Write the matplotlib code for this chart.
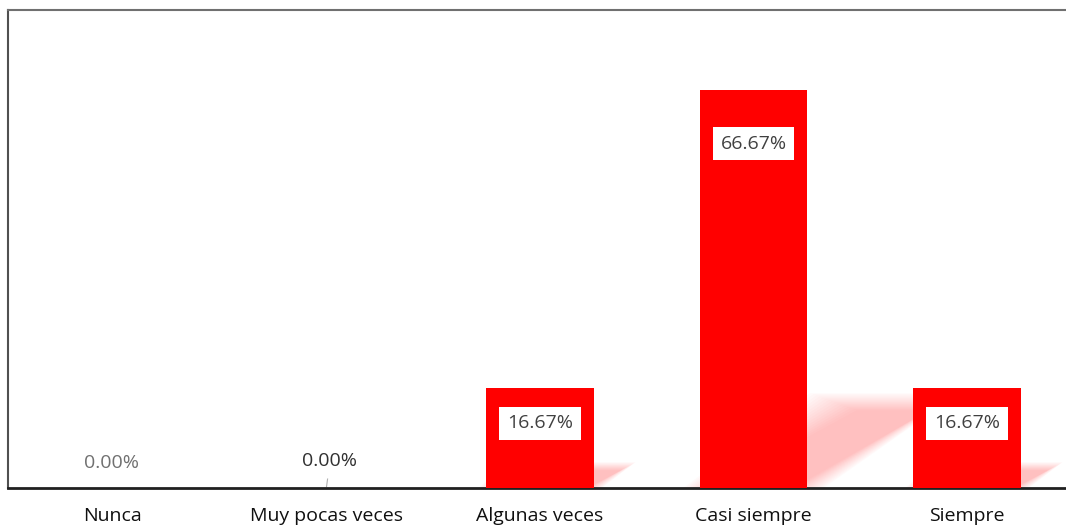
import matplotlib.pyplot as plt
from matplotlib.patches import Polygon

categories = ["Nunca", "Muy pocas veces", "Algunas veces", "Casi siempre", "Siempre"]
values = [0.0, 0.0, 16.67, 66.67, 16.67]
labels = ["0.00%", "0.00%", "16.67%", "66.67%", "16.67%"]

plt.rcParams['font.family'] = ['Open Sans', 'DejaVu Sans']

fig = plt.figure(figsize=(10.66, 5.27), dpi=100)
W, H = 1066, 527
ax = fig.add_axes([8 / W, (H - 488) / H, (W - 8) / W, (488 - 10) / H])

x = list(range(len(categories)))
bw = 0.505
ax.bar(x, values, width=bw, color='#ff0000', zorder=3)

# blurry "3d" shadow to the right of each bar, built from stacked faint layers
for xi, v in zip(x, values):
    if v <= 0:
        continue
    hs = v * 0.215
    s = v * 0.0095
    xl, xr = xi - bw / 2, xi + bw / 2
    n = 16
    k = 0.5 + v / 60
    for i in range(n):
        d = (i - n / 2) * 0.006 * k
        dy = (i - n / 2) * 0.12 * k
        pts = [(xl + d, 0), (xr - d, 0),
               (xr + s - d, hs - dy), (xl + s + d * 1.5, hs - dy)]
        ax.add_patch(Polygon(pts, closed=True, facecolor='#ff3030', edgecolor='none',
                             alpha=0.02, zorder=2))

# data labels
for xi, v, lab in zip(x, values, labels):
    if v <= 0:
        continue
    off = -54 if v > 50 else -35
    ax.annotate(lab, (xi, v), textcoords='offset pixels', xytext=(0, off),
                ha='center', va='center', fontsize=14, color='#404040', zorder=5,
                bbox=dict(boxstyle='square,pad=0.4', facecolor='white', edgecolor='none'))

ax.annotate(labels[0], (0, 0), textcoords='offset pixels', xytext=(-1, 25),
            ha='center', va='center', fontsize=14, color='#707070')
ax.annotate(labels[1], (1, 0), textcoords='offset pixels', xytext=(3, 27),
            ha='center', va='center', fontsize=14, color='#303030')
ax.plot([1.0, 1.005], [0.2, 1.5], color='#b0b0b0', lw=0.8)

ax.set_xlim((8 - 113) / 213.5, (1066 - 113) / 213.5)
ax.set_ylim(0, 80)
ax.set_yticks([])
ax.set_xticks(x)
ax.set_xticklabels(categories, fontsize=14, color='#101010')
ax.tick_params(axis='x', length=0, pad=14)

ax.spines['right'].set_visible(False)
ax.spines['top'].set_color('#707070')
ax.spines['left'].set_color('#505050')
ax.spines['top'].set_linewidth(1.5)
ax.spines['left'].set_linewidth(1.5)
ax.spines['bottom'].set_color('#202020')
ax.spines['bottom'].set_linewidth(2)

fig.savefig('out.png', dpi=100)
